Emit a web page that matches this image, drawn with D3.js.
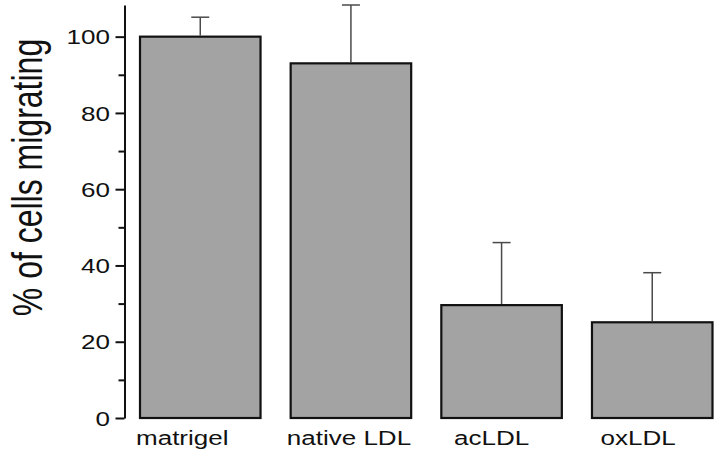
<!DOCTYPE html>
<html>
<head>
<meta charset="utf-8">
<script src="https://cdn.jsdelivr.net/npm/d3@7"></script>
<style>
  html, body { margin: 0; padding: 0; background: #fff; }
  svg text { font-family: "Liberation Sans", Arial, Helvetica, sans-serif; fill: #111; }
</style>
</head>
<body>
<svg id="chart" width="720" height="455"></svg>
<script>
// ---- data ----
const categories = ["matrigel", "native LDL", "acLDL", "oxLDL"];
const values = [100, 93.0, 29.6, 25.1];
const errors = [5.1, 15.3, 16.4, 13.0];
const majorTicks = [0, 20, 40, 60, 80, 100];
const minorTicks = [10, 30, 50, 70, 90];
const yLabel = "% of cells migrating";

// ---- layout (not data) ----
const labelShift = [-18, -2, -10, -14];
const sx = 1.24; // horizontal stretch of the scanned figure text

const svg = d3.select("#chart");

const y = d3.scaleLinear().domain([0, 108.3]).range([418, 5]);
const x = d3.scaleBand().domain(categories).range([140, 712.5]).paddingInner(0.2).paddingOuter(0);

// bars
svg.selectAll("rect.bar").data(categories).join("rect")
  .attr("class", "bar")
  .attr("x", d => x(d))
  .attr("width", x.bandwidth())
  .attr("y", (d, i) => y(values[i]))
  .attr("height", (d, i) => y(0) - y(values[i]))
  .attr("fill", "#a3a3a3")
  .attr("stroke", "#111")
  .attr("stroke-width", 2.2);

// error bars (upper only)
const eg = svg.append("g").attr("stroke", "#4a4a4a").attr("stroke-width", 1.5);
categories.forEach((c, i) => {
  const cx = x(c) + x.bandwidth() / 2;
  eg.append("line").attr("x1", cx).attr("x2", cx)
    .attr("y1", y(values[i]) - 1).attr("y2", y(values[i] + errors[i]));
  eg.append("line").attr("x1", cx - 9).attr("x2", cx + 9)
    .attr("y1", y(values[i] + errors[i])).attr("y2", y(values[i] + errors[i]));
});

// y axis (major)
const axisX = 124.5;
const ax = svg.append("g").attr("transform", `translate(${axisX},0)`)
  .call(d3.axisLeft(y).tickValues(majorTicks).tickSize(9).tickSizeOuter(0).tickFormat(d3.format("d")));
ax.select(".domain").attr("stroke", "#111").attr("stroke-width", 2);
ax.selectAll(".tick line").attr("stroke", "#111").attr("stroke-width", 2);
ax.selectAll(".tick text")
  .attr("x", 0).attr("dy", null)
  .attr("dominant-baseline", "central")
  .attr("text-anchor", "end")
  .attr("font-size", 21)
  .attr("transform", `translate(-14.5,0) scale(${sx},1)`)
  .style("fill", "#111");

// minor ticks
const mi = svg.append("g").attr("transform", `translate(${axisX},0)`)
  .call(d3.axisLeft(y).tickValues(minorTicks).tickSize(6).tickSizeOuter(0).tickFormat(""));
mi.select(".domain").remove();
mi.selectAll(".tick line").attr("stroke", "#111").attr("stroke-width", 2);

// x category labels
svg.selectAll("text.cat").data(categories).join("text")
  .attr("class", "cat")
  .attr("text-anchor", "middle")
  .attr("font-size", 21)
  .attr("transform", (d, i) => `translate(${x(d) + x.bandwidth() / 2 + labelShift[i]},445) scale(${sx},1)`)
  .text(d => d);

// y axis title
svg.append("text")
  .attr("text-anchor", "middle")
  .attr("font-size", 32)
  .attr("transform", `translate(42,177.5) scale(1.34,1) rotate(-90)`)
  .text(yLabel);
</script>
</body>
</html>
